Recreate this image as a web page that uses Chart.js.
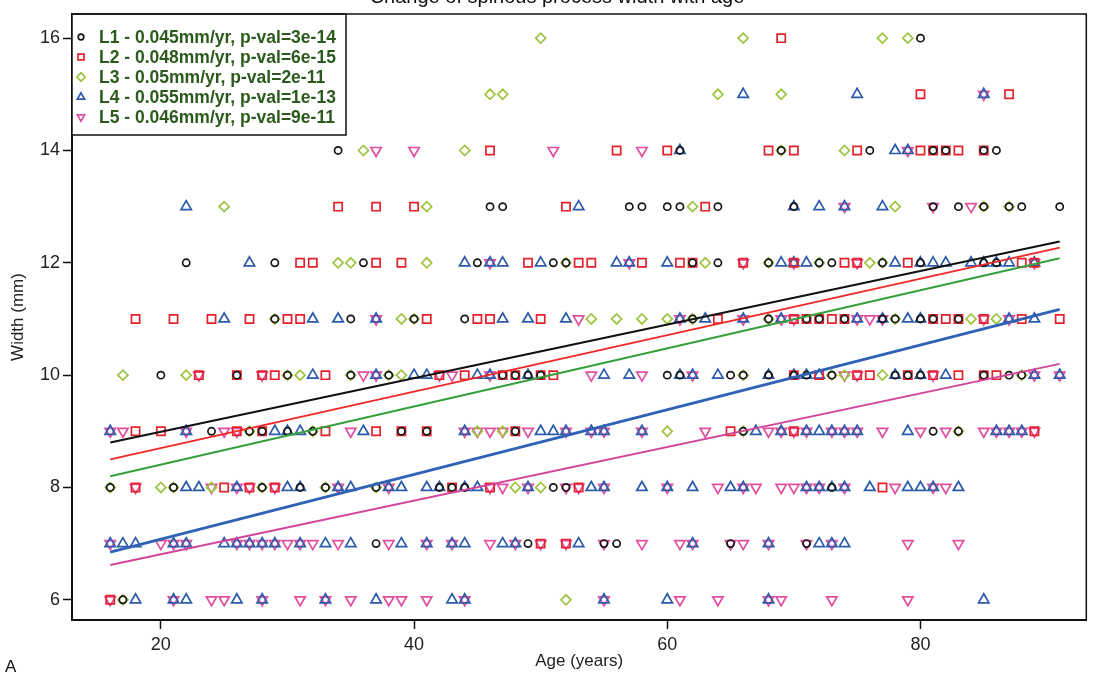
<!DOCTYPE html>
<html>
<head>
<meta charset="utf-8">
<script src="https://cdn.jsdelivr.net/npm/chart.js@4.4.1/dist/chart.umd.min.js"></script>
<style>
  html, body { margin: 0; padding: 0; background: #fff; }
  #wrap { position: relative; width: 1094px; height: 682px; overflow: hidden; }
  #title { position: absolute; top: -15px; left: 0; width: 1114px; text-align: center;
           font: 20px "Liberation Sans", Arial, sans-serif; color: #111; }
  #panel { position: absolute; left: 5px; top: 657px; font: 17px "Liberation Sans", Arial, sans-serif; color: #111; }
</style>
</head>
<body>
<div id="wrap">
  <canvas id="chart" width="1094" height="682"></canvas>
  <div id="title">Change of spinous process width with age</div>
  <div id="panel">A</div>
</div>
<script>
// width levels (mm), one row of ages per level in each series below
const widthLevels = [6, 7, 8, 9, 10, 11, 12, 13, 14, 15, 16];

// ages (years) of each point, grouped by width level (6 .. 16 mm)
const l1Ages = [
  [17],
  [37, 49, 55, 56, 65, 71],
  [16, 21, 28, 31, 33, 37, 42, 43, 44, 51, 52, 73],
  [24, 27, 28, 30, 32, 39, 41, 48, 66, 81, 83],
  [20, 26, 30, 35, 38, 47, 48, 49, 50, 60, 61, 65, 66, 68, 70, 71, 73, 78, 79, 80, 85, 87, 88],
  [29, 35, 40, 44, 62, 68, 71, 72, 74, 77, 78, 80, 81, 83],
  [22, 29, 36, 45, 51, 52, 62, 64, 68, 72, 73, 77, 80, 85, 86],
  [46, 47, 57, 58, 60, 61, 64, 70, 81, 83, 85, 87, 88, 91],
  [34, 61, 69, 76, 81, 82, 85, 86],
  [],
  [80]
];
const l2Ages = [
  [16],
  [50, 52],
  [18, 25, 27, 29, 43, 46, 53, 77],
  [18, 20, 26, 28, 33, 37, 39, 41, 48, 65, 70, 89],
  [23, 26, 28, 29, 33, 42, 44, 47, 48, 50, 51, 70, 72, 75, 76, 79, 81, 83, 85, 86],
  [18, 21, 24, 27, 30, 31, 41, 45, 46, 50, 64, 70, 71, 72, 73, 74, 81, 82, 83, 85, 88, 91],
  [31, 32, 37, 39, 49, 53, 54, 58, 61, 62, 66, 70, 74, 75, 79, 88, 89],
  [34, 37, 40, 52, 63],
  [46, 56, 60, 68, 70, 75, 80, 81, 82, 83, 85],
  [80, 87],
  [69]
];
const l3Ages = [
  [17, 52],
  [],
  [16, 20, 21, 24, 28, 33, 37, 48, 50],
  [27, 32, 45, 47, 60, 66, 83],
  [17, 22, 30, 31, 35, 38, 39, 66, 73, 74, 77, 88],
  [29, 39, 40, 54, 56, 58, 60, 62, 68, 78, 84, 86],
  [34, 35, 41, 52, 63, 68, 72, 76, 77],
  [25, 41, 62, 78, 85, 87],
  [36, 44, 69, 74],
  [46, 47, 64, 69],
  [50, 66, 77, 79]
];
const l4Ages = [
  [18, 21, 22, 26, 28, 33, 37, 43, 44, 55, 60, 68, 85],
  [16, 17, 18, 21, 22, 25, 26, 27, 28, 29, 31, 33, 35, 39, 41, 43, 44, 47, 48, 53, 62, 68, 72, 73, 74],
  [22, 23, 26, 30, 31, 34, 35, 38, 39, 41, 42, 44, 45, 49, 54, 55, 58, 60, 62, 65, 66, 71, 72, 73, 74, 76, 79, 80, 81, 83],
  [16, 22, 29, 30, 31, 36, 44, 50, 51, 52, 54, 55, 58, 67, 69, 71, 72, 73, 74, 75, 79, 86, 87, 88],
  [32, 37, 40, 41, 45, 46, 49, 55, 57, 61, 62, 64, 68, 70, 71, 72, 78, 80, 82, 89, 91],
  [25, 32, 34, 37, 47, 49, 52, 61, 63, 66, 69, 75, 77, 79, 80, 87, 89],
  [27, 44, 46, 47, 50, 56, 57, 60, 69, 70, 71, 78, 80, 81, 82, 84, 85, 86, 87, 89],
  [22, 53, 70, 72, 74, 77],
  [61, 78, 79],
  [66, 75, 85],
  []
];
const l5Ages = [
  [16, 21, 24, 25, 28, 31, 33, 35, 38, 39, 41, 44, 55, 61, 64, 68, 69, 73, 79],
  [16, 20, 21, 22, 26, 27, 28, 29, 30, 31, 32, 34, 38, 41, 43, 46, 48, 50, 52, 55, 58, 61, 62, 65, 66, 68, 71, 73, 79, 83],
  [18, 24, 26, 27, 29, 34, 38, 46, 47, 49, 52, 53, 55, 60, 64, 66, 67, 69, 70, 71, 72, 74, 78, 81, 82],
  [16, 17, 22, 25, 26, 35, 44, 45, 46, 47, 49, 52, 54, 55, 58, 63, 68, 69, 70, 71, 73, 74, 75, 77, 80, 82, 85, 86, 87, 88, 89],
  [23, 28, 36, 37, 42, 43, 46, 54, 58, 62, 74, 75, 81, 89, 91],
  [37, 53, 61, 66, 69, 70, 75, 76, 77, 85, 87],
  [46, 57, 66, 70, 75, 89],
  [74, 81, 84],
  [37, 40, 51, 58, 79],
  [85],
  []
];

// regression lines: width at first and last age
const fitAges = [16, 91];
const fitStart = [8.8, 8.5, 8.2, 6.85, 6.62];
const fitEnd = [12.38, 12.27, 12.08, 11.17, 10.2];

const seriesNames = ["L1", "L2", "L3", "L4", "L5"];
const legendLabels = [
  "L1 - 0.045mm/yr, p-val=3e-14",
  "L2 - 0.048mm/yr, p-val=6e-15",
  "L3 - 0.05mm/yr, p-val=2e-11",
  "L4 - 0.055mm/yr, p-val=1e-13",
  "L5 - 0.046mm/yr, p-val=9e-11"
];
const xTicks = [20, 40, 60, 80];
const yTicks = [6, 8, 10, 12, 14, 16];

const markerColors = ["#161616", "#e5212b", "#9dc440", "#2b5ba9", "#e0509f"];
const lineColors = ["#111111", "#f02828", "#35a03c", "#2f62b4", "#d3459b"];
const markerStyles = [
  { pointStyle: "circle", radius: 3.6, rotation: 0 },
  { pointStyle: "rect", radius: 5.8, rotation: 0 },
  { pointStyle: "rectRot", radius: 5, rotation: 0 },
  { pointStyle: "triangle", radius: 6, rotation: 0 },
  { pointStyle: "triangle", radius: 6, rotation: 180 }
];

function toPoints(rows) {
  const pts = [];
  rows.forEach((ages, i) => {
    ages.forEach(a => pts.push({ x: a, y: widthLevels[i] }));
  });
  return pts;
}

const allAges = [l1Ages, l2Ages, l3Ages, l4Ages, l5Ages];

// lines first so they sit on top of the markers
const datasets = [];
seriesNames.forEach((name, i) => {
  datasets.push({
    type: "line",
    label: name + " fit",
    data: [{ x: fitAges[0], y: fitStart[i] }, { x: fitAges[1], y: fitEnd[i] }],
    borderColor: lineColors[i],
    borderWidth: i === 3 ? 2.8 : 2,
    pointRadius: 0,
    fill: false
  });
});
seriesNames.forEach((name, i) => {
  datasets.push({
    type: "scatter",
    label: name,
    data: toPoints(allAges[i]),
    borderColor: markerColors[i],
    backgroundColor: "rgba(0,0,0,0)",
    borderWidth: 1.7,
    pointStyle: markerStyles[i].pointStyle,
    pointRadius: markerStyles[i].radius,
    pointRotation: markerStyles[i].rotation,
    pointHoverRadius: markerStyles[i].radius
  });
});

// top and right edges of the plot frame
const framePlugin = {
  id: "frame",
  afterDraw(chart) {
    const { ctx, chartArea: a } = chart;
    ctx.save();
    ctx.strokeStyle = "#111";
    ctx.lineWidth = 1.5;
    ctx.beginPath();
    ctx.moveTo(a.left, a.top);
    ctx.lineTo(a.right, a.top);
    ctx.lineTo(a.right, a.bottom);
    ctx.stroke();
    ctx.restore();
  }
};

// boxed legend in the upper left corner of the plot
const legendBoxPlugin = {
  id: "legendBox",
  afterDatasetsDraw(chart) {
    const { ctx, chartArea: a } = chart;
    const boxW = 274, boxH = 121;
    ctx.save();
    ctx.fillStyle = "#fff";
    ctx.fillRect(a.left, a.top, boxW, boxH);
    ctx.strokeStyle = "#111";
    ctx.lineWidth = 1.5;
    ctx.strokeRect(a.left, a.top, boxW, boxH);
    ctx.font = "bold 17.5px 'Liberation Sans', Arial, sans-serif";
    ctx.textBaseline = "middle";
    legendLabels.forEach((label, i) => {
      const y = a.top + 23 + i * 20;
      const st = markerStyles[i];
      ctx.strokeStyle = markerColors[i];
      ctx.fillStyle = "rgba(0,0,0,0)";
      ctx.lineWidth = 1.7;
      Chart.helpers.drawPoint(ctx, {
        pointStyle: st.pointStyle,
        radius: st.pointStyle === "circle" ? 2.8 : 4.2,
        rotation: st.rotation,
        borderWidth: 1.7
      }, a.left + 9, y);
      ctx.fillStyle = "#2c5a1c";
      ctx.fillText(label, a.left + 27, y + 1);
    });
    ctx.restore();
  }
};

new Chart(document.getElementById("chart"), {
  type: "scatter",
  data: { datasets: datasets },
  options: {
    responsive: false,
    animation: false,
    devicePixelRatio: 1,
    layout: { padding: { top: 14, right: 6, left: 0, bottom: 0 } },
    plugins: {
      legend: { display: false },
      tooltip: { enabled: false },
      title: { display: false }
    },
    scales: {
      x: {
        type: "linear",
        min: 12.98,
        max: 93.1,
        afterBuildTicks: s => { s.ticks = xTicks.map(v => ({ value: v })); },
        afterFit: s => { s.height = 62; },
        grid: { drawOnChartArea: false, drawTicks: true, tickLength: 9, tickWidth: 1.5, tickColor: "#111" },
        border: { display: true, color: "#111", width: 2 },
        ticks: { font: { size: 18, family: "'Liberation Sans', Arial, sans-serif" }, color: "#222", padding: 5 },
        title: {
          display: true, text: "Age (years)", color: "#222",
          font: { size: 17, family: "'Liberation Sans', Arial, sans-serif" },
          padding: { top: 0, bottom: 10 }
        }
      },
      y: {
        type: "linear",
        min: 5.64,
        max: 16.43,
        afterBuildTicks: s => { s.ticks = yTicks.map(v => ({ value: v })); },
        afterFit: s => { s.width = 72; },
        grid: { drawOnChartArea: false, drawTicks: true, tickLength: 9, tickWidth: 1.5, tickColor: "#111" },
        border: { display: true, color: "#111", width: 2 },
        ticks: { font: { size: 18, family: "'Liberation Sans', Arial, sans-serif" }, color: "#222", padding: 3 },
        title: {
          display: true, text: "Width (mm)", color: "#222",
          font: { size: 17, family: "'Liberation Sans', Arial, sans-serif" },
          padding: { top: 8, bottom: 0 }
        }
      }
    }
  },
  plugins: [legendBoxPlugin, framePlugin]
});
</script>
</body>
</html>
